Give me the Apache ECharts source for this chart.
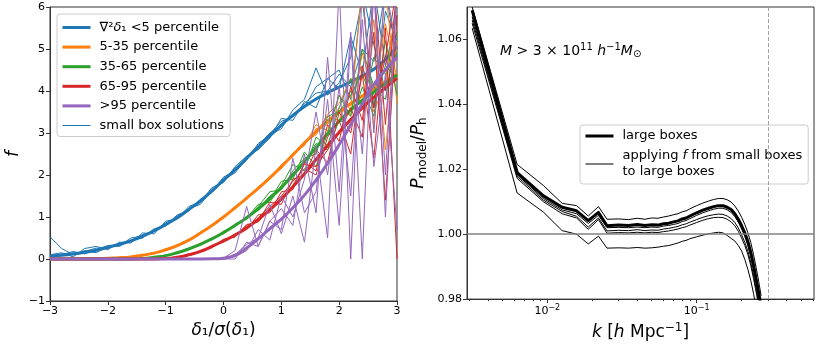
<!DOCTYPE html>
<html>
<head>
<meta charset="utf-8">
<script src="https://cdn.jsdelivr.net/npm/echarts@6/dist/echarts.min.js"></script>
<style>
html, body { margin: 0; padding: 0; background: #fff; }
#chart { width: 830px; height: 346px; }
</style>
</head>
<body>
<div id="chart"></div>
<script>
var chartDom = document.getElementById('chart');
var myChart = echarts.init(chartDom, null, {renderer: 'canvas'});

var FONT = 'DejaVu Sans';
var AX = '#333';

// ---- left panel: f against delta_1 / sigma(delta_1) ----
var deltaX = [-3, -2.8, -2.6, -2.4, -2.2, -2, -1.8, -1.6, -1.4, -1.2, -1, -0.8, -0.6, -0.4, -0.2, 0,
  0.2, 0.4, 0.6, 0.8, 1, 1.2, 1.4, 1.6, 1.8, 2, 2.2, 2.4, 2.6, 2.8, 3];

var groupNames = ['∇²δ₁ <5 percentile', '5-35 percentile', '35-65 percentile', '65-95 percentile', '>95 percentile'];
var groupColors = ['#1f77b4', '#ff7f0e', '#2ca02c', '#d62728', '#9467bd'];

var meanLt5 = [0.07, 0.09, 0.12, 0.16, 0.21, 0.28, 0.35, 0.43, 0.54, 0.67, 0.82, 0.98, 1.18, 1.38, 1.62, 1.88,
  2.12, 2.40, 2.67, 2.93, 3.19, 3.42, 3.63, 3.81, 3.96, 4.09, 4.22, 4.36, 4.52, 4.75, 5.05];
var mean5to35 = [0, 0, 0.005, 0.01, 0.01, 0.02, 0.03, 0.05, 0.09, 0.14, 0.22, 0.32, 0.45, 0.62, 0.8, 1.0,
  1.22, 1.45, 1.68, 1.93, 2.2, 2.48, 2.76, 3.03, 3.28, 3.5, 3.7, 3.88, 4.05, 4.22, 4.4];
var mean35to65 = [0, 0, 0, 0, 0, 0, 0, 0, 0.01, 0.04, 0.08, 0.15, 0.24, 0.35, 0.48, 0.63,
  0.8, 0.98, 1.2, 1.44, 1.7, 2.0, 2.32, 2.65, 2.98, 3.28, 3.55, 3.78, 3.98, 4.18, 4.38];
var mean65to95 = [0, 0, 0, 0, 0, 0, 0, 0, 0, 0, 0.01, 0.04, 0.1, 0.18, 0.3, 0.43,
  0.57, 0.74, 0.94, 1.17, 1.43, 1.72, 2.03, 2.37, 2.7, 3.02, 3.32, 3.6, 3.85, 4.08, 4.3];
var meanGt95 = [0, 0, 0, 0, 0, 0, 0, 0, 0, 0, 0, 0, 0, 0, 0.003, 0.02,
  0.09, 0.26, 0.48, 0.72, 0.95, 1.22, 1.52, 1.88, 2.28, 2.72, 3.2, 3.7, 4.15, 4.5, 4.8];

// small box solutions, per group
var runsLt5 = [
  [0.53, 0.25, 0.10, 0.20, 0.15, 0.30, 0.32, 0.50, 0.55, 0.70, 0.80, 1.05, 1.15, 1.42, 1.60, 1.95, 2.10, 2.35, 2.75, 2.95, 3.10, 3.55, 3.80, 4.55, 3.90, 4.20, 4.80, 6.20, 3.60, 5.90, 5.20],
  [0.10, 0.15, 0.05, 0.25, 0.30, 0.22, 0.40, 0.38, 0.62, 0.60, 0.90, 0.95, 1.25, 1.35, 1.70, 1.82, 2.20, 2.45, 2.60, 2.88, 3.35, 3.30, 3.75, 3.60, 4.30, 4.05, 5.30, 4.40, 6.50, 4.60, 5.80],
  [0.05, 0.10, 0.18, 0.12, 0.22, 0.32, 0.30, 0.45, 0.50, 0.72, 0.78, 1.02, 1.20, 1.30, 1.65, 1.90, 2.05, 2.40, 2.70, 3.00, 3.15, 3.45, 3.60, 4.10, 4.30, 4.50, 3.80, 6.40, 5.10, 4.00, 6.30],
  [0.08, 0.12, 0.14, 0.18, 0.26, 0.25, 0.38, 0.44, 0.58, 0.66, 0.86, 0.98, 1.16, 1.40, 1.58, 1.86, 2.16, 2.38, 2.62, 2.98, 3.28, 3.38, 3.70, 3.95, 4.00, 4.40, 4.10, 5.00, 4.70, 6.40, 4.80]
];
var runs5to35 = [
  [0, 0, 0, 0.01, 0.02, 0.03, 0.03, 0.06, 0.10, 0.15, 0.20, 0.34, 0.44, 0.63, 0.78, 1.02, 1.20, 1.48, 1.66, 1.95, 2.18, 2.50, 2.72, 3.10, 3.20, 3.60, 3.40, 4.90, 3.90, 5.60, 4.30],
  [0, 0, 0.01, 0.01, 0.01, 0.02, 0.04, 0.05, 0.08, 0.13, 0.24, 0.30, 0.47, 0.60, 0.82, 0.98, 1.25, 1.42, 1.72, 1.90, 2.25, 2.45, 2.80, 2.95, 3.45, 3.70, 4.30, 3.60, 5.70, 2.60, 5.20],
  [0, 0, 0, 0, 0.02, 0.02, 0.03, 0.05, 0.09, 0.14, 0.21, 0.31, 0.45, 0.61, 0.80, 1.00, 1.22, 1.45, 1.70, 1.92, 2.20, 2.46, 2.78, 3.00, 3.40, 3.30, 4.00, 4.60, 3.50, 4.20, 6.20],
  [0, 0, 0, 0.01, 0.01, 0.02, 0.04, 0.06, 0.09, 0.15, 0.22, 0.33, 0.46, 0.63, 0.79, 1.01, 1.21, 1.46, 1.69, 1.96, 2.15, 2.52, 2.70, 3.20, 3.05, 3.90, 3.55, 6.50, 3.10, 6.50, 3.70]
];
var runs35to65 = [
  [0, 0, 0, 0, 0, 0, 0, 0, 0.01, 0.04, 0.08, 0.15, 0.26, 0.34, 0.50, 0.62, 0.83, 0.95, 1.25, 1.60, 1.65, 2.10, 2.40, 2.50, 3.40, 3.50, 3.90, 4.40, 3.70, 4.60, 4.30],
  [0, 0, 0, 0, 0, 0, 0, 0, 0.02, 0.03, 0.09, 0.14, 0.22, 0.37, 0.46, 0.66, 0.78, 1.02, 1.15, 1.40, 1.85, 1.90, 2.55, 2.20, 3.00, 3.90, 3.40, 5.00, 4.10, 3.80, 5.40],
  [0, 0, 0, 0, 0, 0, 0, 0, 0, 0.05, 0.07, 0.16, 0.25, 0.35, 0.49, 0.60, 0.80, 0.97, 1.30, 1.35, 1.75, 2.25, 2.10, 2.90, 2.70, 3.60, 4.30, 3.60, 4.80, 4.40, 4.90],
  [0, 0, 0, 0, 0, 0, 0, 0, 0.01, 0.03, 0.08, 0.16, 0.23, 0.36, 0.47, 0.65, 0.81, 1.00, 1.18, 1.50, 1.70, 2.05, 2.30, 2.75, 2.60, 3.30, 3.20, 4.10, 3.40, 5.20, 3.90]
];
var runs65to95 = [
  [0, 0, 0, 0, 0, 0, 0, 0, 0, 0, 0, 0.03, 0.10, 0.20, 0.28, 0.45, 0.55, 0.80, 0.90, 1.35, 1.30, 1.90, 2.00, 2.60, 2.30, 3.50, 3.00, 4.40, 2.40, 5.50, 0],
  [0, 0, 0, 0, 0, 0, 0, 0, 0, 0, 0.02, 0.05, 0.09, 0.16, 0.32, 0.40, 0.60, 0.70, 1.05, 1.10, 1.60, 1.65, 2.30, 2.10, 3.20, 2.80, 4.10, 3.30, 5.40, 1.40, 5.80],
  [0, 0, 0, 0, 0, 0, 0, 0, 0, 0, 0, 0.04, 0.11, 0.18, 0.30, 0.44, 0.58, 0.76, 0.98, 1.25, 1.50, 1.85, 2.15, 2.00, 2.90, 3.30, 2.50, 4.60, 3.60, 4.80, 6.50],
  [0, 0, 0, 0, 0, 0, 0, 0, 0, 0, 0.01, 0.03, 0.12, 0.17, 0.27, 0.47, 0.52, 0.82, 0.88, 1.20, 1.40, 1.75, 2.25, 2.20, 2.60, 3.00, 3.60, 2.90, 6.50, 3.20, 6.50]
];
var runsGt95 = [
  [0, 0, 0, 0, 0, 0, 0, 0, 0, 0, 0, 0, 0, 0, 0, 0, 0.10, 0.35, 0.50, 1.30, 0.60, 1.50, 0.40, 2.70, 0.50, 6.50, 0, 6.50, 3.00, 6.50, 5.00],
  [0, 0, 0, 0, 0, 0, 0, 0, 0, 0, 0, 0, 0, 0, 0, 0.02, 0.20, 1.25, 0.30, 0.90, 1.20, 0.80, 2.50, 1.10, 4.80, 1.60, 5.40, 0, 6.50, 2.00, 6.50],
  [0, 0, 0, 0, 0, 0, 0, 0, 0, 0, 0, 0, 0, 0, 0, 0, 0.05, 0.20, 0.70, 0.45, 1.50, 1.00, 1.90, 3.50, 2.00, 4.10, 1.50, 5.70, 2.20, 4.40, 0.70],
  [0, 0, 0, 0, 0, 0, 0, 0, 0, 0, 0, 0, 0, 0, 0, 0, 0, 0.40, 0.30, 0.90, 0.70, 2.40, 1.10, 1.60, 3.80, 0.80, 5.20, 2.50, 6.50, 1.00, 6.50]
];

// ---- right panel: P_model / P_h against k ----
var kValues = [0.00314, 0.00628, 0.00942, 0.01257, 0.0157, 0.0188, 0.0220, 0.0251, 0.03, 0.035, 0.04, 0.045, 0.05,
  0.055, 0.06, 0.065, 0.07, 0.075, 0.08, 0.085, 0.09, 0.1, 0.11, 0.12, 0.13, 0.14, 0.15, 0.16, 0.17, 0.18, 0.19,
  0.2, 0.21, 0.22, 0.23, 0.24, 0.25, 0.26, 0.27];
var ratioLarge = [1.069, 1.0190, 1.0118, 1.0083, 1.0072, 1.0042, 1.0067, 1.0026, 1.0028, 1.0027, 1.0030, 1.0027, 1.0029,
  1.0028, 1.0032, 1.0034, 1.0038, 1.0041, 1.0047, 1.0050, 1.0056, 1.0066, 1.0074, 1.0080, 1.0085, 1.0088, 1.0088,
  1.0083, 1.0076, 1.0063, 1.0046, 1.0026, 1.0004, 0.9978, 0.9945, 0.9905, 0.9862, 0.9820, 0.9775];
var ratioSmall = [
  [1.070, 1.0215, 1.0150, 1.0095, 1.0088, 1.0056, 1.0085, 1.0046, 1.0047, 1.0045, 1.0049, 1.0046, 1.0050,
    1.0049, 1.0053, 1.0056, 1.0060, 1.0063, 1.0069, 1.0072, 1.0078, 1.0088, 1.0096, 1.0102, 1.0107, 1.0110, 1.0110,
    1.0106, 1.0099, 1.0087, 1.0071, 1.0052, 1.0030, 1.0005, 0.9975, 0.9938, 0.9897, 0.9855, 0.9810],
  [1.067, 1.0183, 1.0110, 1.0075, 1.0063, 1.0033, 1.0058, 1.0020, 1.0021, 1.0020, 1.0022, 1.0020, 1.0022,
    1.0021, 1.0025, 1.0027, 1.0030, 1.0033, 1.0039, 1.0042, 1.0048, 1.0058, 1.0066, 1.0072, 1.0077, 1.0080, 1.0080,
    1.0075, 1.0067, 1.0054, 1.0037, 1.0016, 0.9993, 0.9966, 0.9932, 0.9892, 0.9850, 0.9806, 0.9760],
  [1.066, 1.0178, 1.0105, 1.0070, 1.0055, 1.0022, 1.0050, 1.0010, 1.0012, 1.0011, 1.0014, 1.0011, 1.0013,
    1.0012, 1.0016, 1.0018, 1.0021, 1.0024, 1.0029, 1.0032, 1.0037, 1.0045, 1.0052, 1.0057, 1.0060, 1.0062, 1.0061,
    1.0056, 1.0048, 1.0036, 1.0019, 0.9998, 0.9975, 0.9948, 0.9914, 0.9874, 0.9832, 0.9788, 0.9742],
  [1.065, 1.0172, 1.0100, 1.0063, 1.0050, 1.0015, 1.0045, 1.0003, 1.0005, 1.0004, 1.0006, 1.0004, 1.0006,
    1.0005, 1.0008, 1.0010, 1.0013, 1.0016, 1.0020, 1.0023, 1.0028, 1.0036, 1.0043, 1.0048, 1.0051, 1.0052, 1.0051,
    1.0046, 1.0038, 1.0026, 1.0009, 0.9988, 0.9965, 0.9938, 0.9904, 0.9864, 0.9822, 0.9778, 0.9732],
  [1.0635, 1.0127, 1.0068, 1.0011, 1.0000, 0.9970, 0.9994, 0.9957, 0.9958, 0.9957, 0.9959, 0.9957, 0.9958,
    0.9960, 0.9963, 0.9965, 0.9969, 0.9973, 0.9978, 0.9981, 0.9986, 0.9992, 0.9997, 1.0001, 1.0004, 1.0006, 1.0004,
    0.9996, 0.9987, 0.9979, 0.9965, 0.9948, 0.9922, 0.9892, 0.9858, 0.9818, 0.9772, 0.9725, 0.9680]
];
var kMajorTicks = [0.01, 0.1];
var kMinorTicks = [0.003, 0.004, 0.005, 0.006, 0.007, 0.008, 0.009, 0.02, 0.03, 0.04, 0.05, 0.06, 0.07, 0.08, 0.09,
  0.2, 0.3, 0.4, 0.5, 0.6];
var ratioTicks = [0.98, 1.00, 1.02, 1.04, 1.06];
var kScaleCut = 0.3;

var SMALL_BOX = 'small box solutions';
var LARGE_NAME = 'large boxes';
var SMALL_NAME = 'applying f from small boxes\nto large boxes';

function pairs(xs, ys) {
  return xs.map(function (x, i) { return [x, ys[i]]; });
}
function minusFmt(v) {
  return String(v).replace('-', '\u2212');
}

var series = [];
var means = [meanLt5, mean5to35, mean35to65, mean65to95, meanGt95];
var runs = [runsLt5, runs5to35, runs35to65, runs65to95, runsGt95];

// itemStyle opacity 0 hides the legend marker dot, lines stay
for (var g = 0; g < 5; g++) {
  series.push({
    type: 'line', name: groupNames[g], xAxisIndex: 0, yAxisIndex: 0,
    data: pairs(deltaX, means[g]), smooth: true, symbol: 'none',
    lineStyle: {color: groupColors[g], width: 3, join: 'round'},
    itemStyle: {color: groupColors[g], opacity: 0}
  });
  runs[g].forEach(function (r, j) {
    series.push({
      type: 'line', name: (g === 0 && j === 0) ? SMALL_BOX : 'run ' + g + '-' + j,
      xAxisIndex: 0, yAxisIndex: 0,
      data: pairs(deltaX, r), symbol: 'none',
      lineStyle: {color: groupColors[g], width: 1},
      itemStyle: {color: groupColors[g], opacity: 0}
    });
  });
}

series.push({
  type: 'line', name: LARGE_NAME, xAxisIndex: 1, yAxisIndex: 1,
  data: pairs(kValues, ratioLarge), symbol: 'none',
  lineStyle: {color: '#000', width: 3, join: 'round'},
  itemStyle: {color: '#000', opacity: 0},
  markLine: {
    silent: true, symbol: 'none', animation: false,
    label: {show: false},
    data: [
      {yAxis: 1.0, lineStyle: {color: '#808080', width: 1.5, type: 'solid', opacity: 1}},
      {xAxis: kScaleCut, lineStyle: {color: '#a0a0a0', width: 1, type: [4, 2], opacity: 1}}
    ]
  }
});
ratioSmall.forEach(function (r, j) {
  series.push({
    type: 'line', name: j === 0 ? SMALL_NAME : 'small ' + j, xAxisIndex: 1, yAxisIndex: 1,
    data: pairs(kValues, r), symbol: 'none',
    lineStyle: {color: '#000', width: 1},
    itemStyle: {color: '#000', opacity: 0}
  });
});

var tickLabel = {color: '#000', fontSize: 11, fontFamily: FONT};

var leftLegendData = groupNames.map(function (n, i) {
  return {name: n, lineStyle: {width: 3, color: groupColors[i]}};
}).concat([{name: SMALL_BOX, lineStyle: {width: 1, color: groupColors[0]}}]);

var legendRich = {
  n: {fontSize: 13, fontFamily: FONT, color: '#000', lineHeight: 16, height: 16},
  it: {fontStyle: 'italic', fontSize: 13, fontFamily: FONT, color: '#000', lineHeight: 16, height: 16}
};

var option = {
  animation: false,
  backgroundColor: '#fff',
  textStyle: {fontFamily: FONT},
  grid: [
    {left: 50, top: 7, width: 347, height: 294, show: true, borderColor: AX, borderWidth: 1},
    {left: 467, top: 7, width: 347, height: 294, show: true, borderColor: AX, borderWidth: 1}
  ],
  legend: [
    {
      data: leftLegendData,
      orient: 'vertical', left: 57, top: 14,
      itemWidth: 28, itemHeight: 16, itemGap: 3.6,
      padding: [5.5, 6, 3, 4],
      backgroundColor: 'rgba(255,255,255,0.8)',
      borderColor: '#cccccc', borderWidth: 1, borderRadius: 3,
      selectedMode: false,
      itemStyle: {opacity: 0},
      formatter: function (name) {
        return name === groupNames[0] ? '{n|∇²}{it|δ}{n|₁ <5 percentile}' : '{n|' + name + '}';
      },
      textStyle: {
        color: '#000', fontSize: 13, fontFamily: FONT, lineHeight: 16, height: 16, padding: [0, 0, 0, 4],
        rich: legendRich
      }
    },
    {
      data: [{name: LARGE_NAME, lineStyle: {width: 3, color: '#000'}}, {name: SMALL_NAME, lineStyle: {width: 1, color: '#000'}}],
      orient: 'vertical', left: 580, top: 125,
      itemWidth: 28, itemHeight: 14, itemGap: 4,
      padding: [3, 6, 4, 4],
      backgroundColor: 'rgba(255,255,255,0.8)',
      borderColor: '#cccccc', borderWidth: 1, borderRadius: 3,
      selectedMode: false,
      itemStyle: {opacity: 0},
      formatter: function (name) {
        return name === SMALL_NAME ? 'applying {it|f} from small boxes\nto large boxes' : name;
      },
      textStyle: {
        color: '#000', fontSize: 13, fontFamily: FONT, lineHeight: 16, padding: [0, 0, 0, 4],
        rich: {it: {fontStyle: 'italic', fontSize: 13, fontFamily: FONT, color: '#000', lineHeight: 16}}
      }
    }
  ],
  xAxis: [
    {
      gridIndex: 0, type: 'value', min: -3, max: 3, interval: 1,
      axisLine: {onZero: false, lineStyle: {color: AX, width: 1}},
      axisTick: {length: 4, lineStyle: {color: AX}},
      axisLabel: Object.assign({margin: 5, formatter: minusFmt}, tickLabel),
      splitLine: {show: false},
      name: '{it|δ}₁/{it|σ}({it|δ}₁)', nameLocation: 'middle', nameGap: 19,
      nameTextStyle: {
        color: '#000', fontSize: 17, fontFamily: FONT,
        rich: {it: {fontStyle: 'italic', fontSize: 17, fontFamily: FONT, color: '#000'}}
      }
    },
    {
      gridIndex: 1, type: 'log', logBase: 10, min: 0.0029, max: 0.61,
      axisLine: {onZero: false, lineStyle: {color: AX, width: 1}},
      axisTick: {length: 4, lineStyle: {color: AX}, customValues: kMajorTicks},
      axisLabel: Object.assign({
        margin: 5, customValues: kMajorTicks,
        formatter: function (v) {
          var e = Math.round(Math.log(v) / Math.LN10);
          return '10{sup|\u2212' + (-e) + '}';
        },
        rich: {sup: {fontSize: 8, fontFamily: FONT, color: '#000', padding: [0, 0, 7, 0]}}
      }, tickLabel),
      splitLine: {show: false},
      name: '{it|k} [{it|h} Mpc{sup|\u22121}]', nameLocation: 'middle', nameGap: 19,
      nameTextStyle: {
        color: '#000', fontSize: 17, fontFamily: FONT,
        rich: {
          it: {fontStyle: 'italic', fontSize: 17, fontFamily: FONT, color: '#000'},
          sup: {fontSize: 12, fontFamily: FONT, color: '#000', padding: [0, 0, 9, 0]}
        }
      }
    },
    {
      gridIndex: 1, type: 'log', logBase: 10, min: 0.0029, max: 0.61, position: 'bottom',
      axisLine: {show: false},
      axisTick: {length: 2, lineStyle: {color: AX}, customValues: kMinorTicks},
      axisLabel: {show: false},
      splitLine: {show: false}
    }
  ],
  yAxis: [
    {
      gridIndex: 0, type: 'value', min: -1, max: 6, interval: 1,
      axisLine: {onZero: false, lineStyle: {color: AX, width: 1}},
      axisTick: {length: 4, lineStyle: {color: AX}},
      axisLabel: Object.assign({margin: 5, formatter: minusFmt}, tickLabel),
      splitLine: {show: false},
      name: 'f', nameLocation: 'middle', nameGap: 28,
      nameTextStyle: {color: '#000', fontSize: 17, fontStyle: 'italic', fontFamily: FONT}
    },
    {
      gridIndex: 1, type: 'value', min: 0.98, max: 1.07,
      axisLine: {onZero: false, lineStyle: {color: AX, width: 1}},
      axisTick: {length: 4, lineStyle: {color: AX}, customValues: ratioTicks},
      axisLabel: Object.assign({
        margin: 5, customValues: ratioTicks,
        formatter: function (v) { return v.toFixed(2); }
      }, tickLabel),
      splitLine: {show: false},
      name: '{it|P}{sub|model}/{it|P}{sub|h}', nameLocation: 'middle', nameGap: 38,
      nameTextStyle: {
        color: '#000', fontSize: 17, fontFamily: FONT,
        rich: {
          it: {fontStyle: 'italic', fontSize: 17, fontFamily: FONT, color: '#000'},
          sub: {fontSize: 12, fontFamily: FONT, color: '#000', padding: [8, 0, 0, 0]}
        }
      }
    }
  ],
  graphic: [
    {
      type: 'text', left: 500, top: 42,
      style: {
        text: '{it|M} > 3 × 10{sup|11} {it|h}{sup|\u22121}{it|M}{sub|⊙}',
        fontSize: 14, fontFamily: FONT, fill: '#000',
        rich: {
          it: {fontStyle: 'italic', fontSize: 14, fontFamily: FONT, fill: '#000'},
          sup: {fontSize: 10, fontFamily: FONT, fill: '#000', padding: [0, 0, 8, 0]},
          sub: {fontSize: 10, fontFamily: FONT, fill: '#000', padding: [6, 0, 0, 0]}
        }
      }
    }
  ],
  series: series
};

myChart.setOption(option);
</script>
</body>
</html>
